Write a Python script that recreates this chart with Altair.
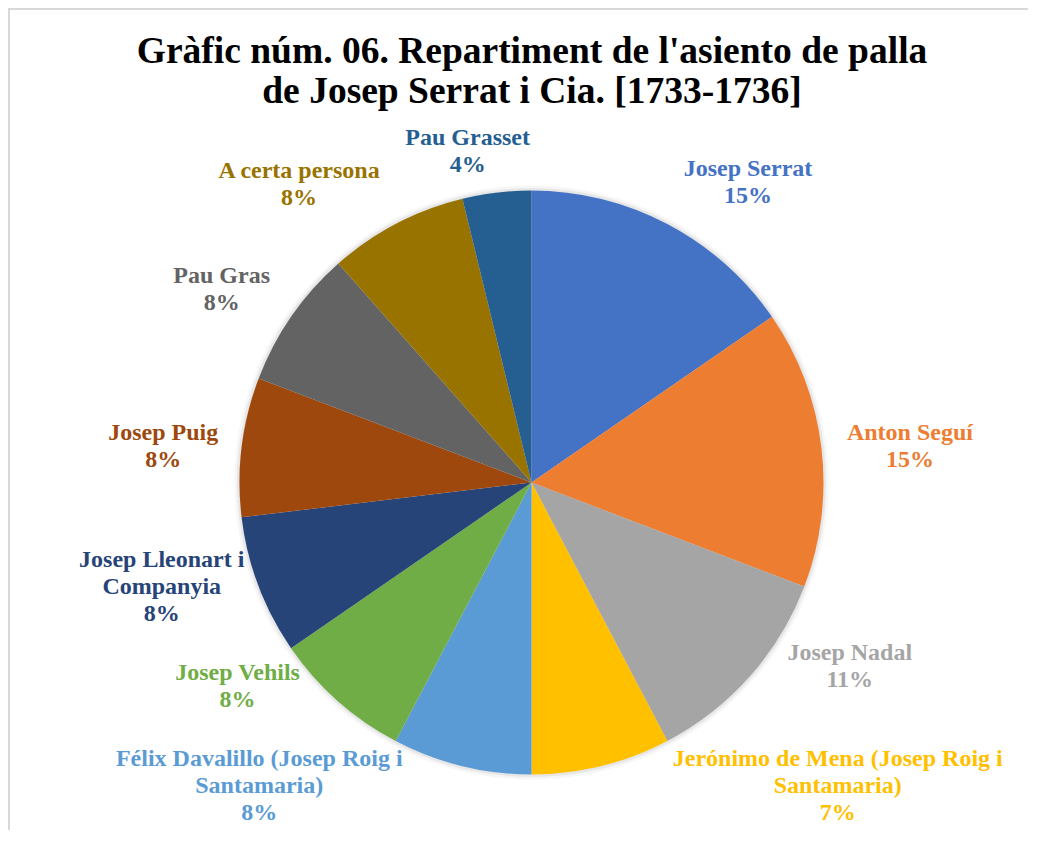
import altair as alt
import pandas as pd

# ---- data ----
names = [
    "Josep Serrat", "Anton Seguí", "Josep Nadal",
    "Jerónimo de Mena (Josep Roig i Santamaria)",
    "Félix Davalillo (Josep Roig i Santamaria)",
    "Josep Vehils", "Josep Lleonart i Companyia", "Josep Puig",
    "Pau Gras", "A certa persona", "Pau Grasset",
]
shares = [15.4, 15.4, 11.5, 7.7, 7.7, 7.7, 7.7, 7.7, 7.7, 7.7, 3.8]
pct_labels = ["15%", "15%", "11%", "7%", "8%", "8%", "8%", "8%", "8%", "8%", "4%"]
label_names = [
    "Josep Serrat", "Anton Seguí", "Josep Nadal",
    "Jerónimo de Mena (Josep Roig i\nSantamaria)",
    "Félix Davalillo (Josep Roig i\nSantamaria)",
    "Josep Vehils", "Josep Lleonart i\nCompanyia", "Josep Puig",
    "Pau Gras", "A certa persona", "Pau Grasset",
]
title_lines = ["Gràfic núm. 06. Repartiment de l'asiento de palla",
               "de Josep Serrat i Cia. [1733-1736]"]

# ---- styling ----
colors = ["#4472C4", "#ED7D31", "#A5A5A5", "#FFC000", "#5B9BD5", "#70AD47",
          "#264478", "#9E480E", "#636363", "#997300", "#255E91"]
# label nudges (px) from the slice mid-angle anchor, Excel "best fit" style
label_dx = [49, 21, 49, 220, -186, -55, -33, -11, -14, -66, -21]
label_dy = [5.5, -6.5, -68.5, -73, -73, -78.5, -50, -5.5, -1.5, 7.5, 12.5]

W, H = 1020, 822
CX, CY = 523.5, 474.5
R = 292
FONT = "Liberation Serif"

df = pd.DataFrame({
    "name": names,
    "share": shares,
    "label": [f"{n}\n{p}" for n, p in zip(label_names, pct_labels)],
    "idx": list(range(len(names))),
    "ldx": label_dx,
    "ldy": label_dy,
})

base = alt.Chart(df).encode(
    theta=alt.Theta("share:Q", stack=True),
    order=alt.Order("idx:Q", sort="ascending"),
    color=alt.Color("name:N", scale=alt.Scale(domain=names, range=colors),
                    legend=None),
    x=alt.value(CX),
    y=alt.value(CY),
)

shadow1 = base.mark_arc(radius=R + 5, opacity=0.035).encode(color=alt.value("#000000"))
shadow2 = base.mark_arc(radius=R + 2.5, opacity=0.06).encode(color=alt.value("#000000"))
pie = base.mark_arc(radius=R)

labels = base.mark_text(
    radius=360, font=FONT, fontSize=24, fontWeight="bold",
    lineBreak="\n", lineHeight=27, align="center", baseline="middle",
    dx=alt.expr("datum.ldx"), dy=alt.expr("datum.ldy"),
).encode(text="label:N")

title = alt.Chart(pd.DataFrame({"t": ["\n".join(title_lines)]})).mark_text(
    font=FONT, fontSize=37.5, fontWeight="bold", lineBreak="\n",
    lineHeight=40, align="center", baseline="alphabetic", color="#000000",
).encode(text="t:N", x=alt.value(524), y=alt.value(55))

frame_df = pd.DataFrame({"k": [0]})
top_rule = alt.Chart(frame_df).mark_rule(color="#d9d9d9", strokeWidth=2).encode(
    x=alt.value(0), x2=alt.value(W), y=alt.value(1))
left_rule = alt.Chart(frame_df).mark_rule(color="#d9d9d9", strokeWidth=2).encode(
    x=alt.value(1), y=alt.value(0), y2=alt.value(H))

chart = alt.layer(
    top_rule, left_rule, shadow1, shadow2, pie, labels, title
).properties(
    width=W, height=H,
    autosize=alt.AutoSizeParams(type="none"),
    padding=0,
    background="#ffffff",
).configure_view(stroke=None)

chart.save("out.html", embed_options={"renderer": "svg", "actions": False})
